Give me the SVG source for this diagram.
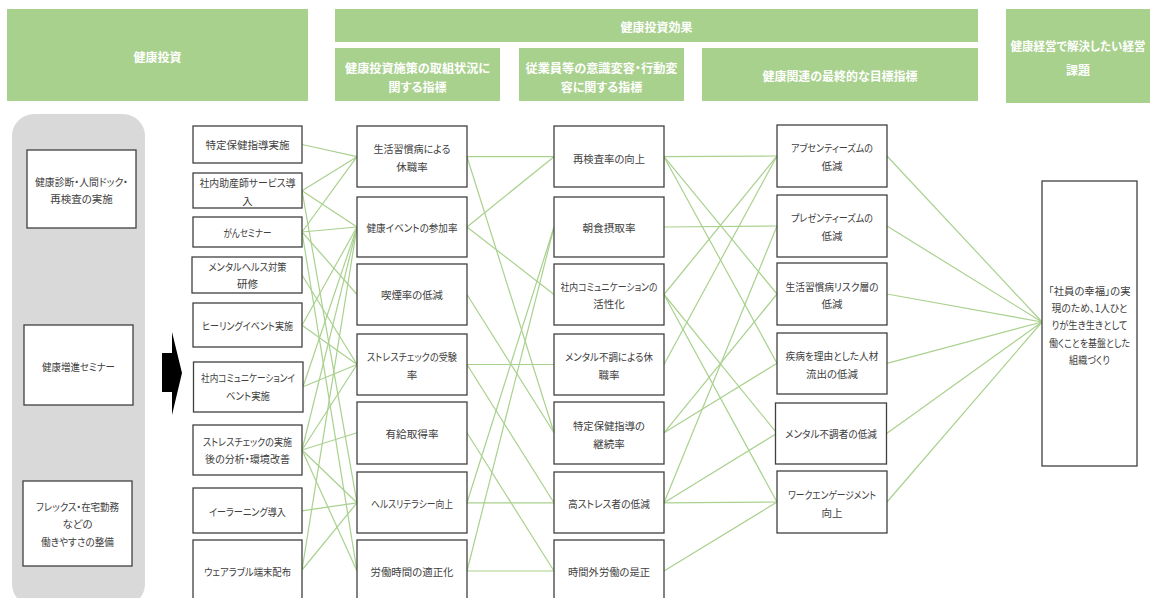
<svg xmlns="http://www.w3.org/2000/svg" width="1157" height="598" viewBox="0 0 1157 598">
<style>
.hd{fill:#a9d18e}
.ht{fill:#ffffff;font-weight:bold;font-size:12px;text-anchor:middle;dominant-baseline:central;font-family:"Noto Sans CJK JP",sans-serif;font-feature-settings:"palt"}
.bx{fill:#ffffff;stroke:#404040;stroke-width:1.3}
.t{font-size:10.5px;fill:#404040;text-anchor:middle;dominant-baseline:central;font-family:"Noto Sans CJK JP",sans-serif;font-feature-settings:"palt"}
.c line{stroke:#a9d18e;stroke-width:1.2}
</style>
<rect width="1157" height="598" fill="#ffffff"/>
<!-- headers -->
<g id="h-invest"><rect class="hd" x="7" y="9" width="301" height="92"/><text class="ht" x="157.5" y="56">健康投資</text></g>
<g id="h-effect"><rect class="hd" x="335" y="9" width="643" height="33"/><text class="ht" x="656.5" y="26">健康投資効果</text></g>
<g id="h-sub1"><rect class="hd" x="335" y="48" width="165" height="53"/><text class="ht" x="417.5" y="67" textLength="145" lengthAdjust="spacingAndGlyphs">健康投資施策の取組状況に</text><text class="ht" x="417.5" y="86">関する指標</text></g>
<g id="h-sub2"><rect class="hd" x="519" y="48" width="165" height="53"/><text class="ht" x="601.5" y="67" textLength="152" lengthAdjust="spacingAndGlyphs">従業員等の意識変容・行動変</text><text class="ht" x="601.5" y="86">容に関する指標</text></g>
<g id="h-sub3"><rect class="hd" x="702" y="48" width="276" height="53"/><text class="ht" x="840" y="75" textLength="155" lengthAdjust="spacingAndGlyphs">健康関連の最終的な目標指標</text></g>
<g id="h-issue"><rect class="hd" x="1006" y="9" width="144" height="94"/><text class="ht" x="1078" y="45" textLength="135" lengthAdjust="spacingAndGlyphs">健康経営で解決したい経営</text><text class="ht" x="1078" y="69">課題</text></g>
<!-- left panel -->
<rect x="12" y="114" width="133" height="492" rx="22" ry="22" fill="#d9d9d9"/>
<g id="l1"><rect class="bx" x="27" y="150" width="109" height="78"/><text class="t" x="81.5" y="181" textLength="93" lengthAdjust="spacingAndGlyphs">健康診断・人間ドック・</text><text class="t" x="81.5" y="198">再検査の実施</text></g>
<g id="l2"><rect class="bx" x="24" y="325" width="109" height="80"/><text class="t" x="78.5" y="366" textLength="73" lengthAdjust="spacingAndGlyphs">健康増進セミナー</text></g>
<g id="l3"><rect class="bx" x="23" y="481" width="109" height="85"/><text class="t" x="77.5" y="506" textLength="83" lengthAdjust="spacingAndGlyphs">フレックス・在宅勤務</text><text class="t" x="77.5" y="523">などの</text><text class="t" x="77.5" y="541" textLength="73" lengthAdjust="spacingAndGlyphs">働きやすさの整備</text></g>
<polygon id="arrow" points="162,353 172,353 172,332 182,373 172,415 172,392 162,392" fill="#000000"/>
<!-- connectors -->
<g id="connectors" class="c">
<line x1="302" y1="144.5" x2="357" y2="156.7"/>
<line x1="302" y1="190.7" x2="357" y2="156.7"/>
<line x1="302" y1="190.7" x2="357" y2="227"/>
<line x1="302" y1="190.7" x2="357" y2="502.8"/>
<line x1="302" y1="232" x2="357" y2="156.7"/>
<line x1="302" y1="232" x2="357" y2="227"/>
<line x1="302" y1="232" x2="357" y2="294.5"/>
<line x1="302" y1="232" x2="357" y2="571"/>
<line x1="302" y1="275" x2="357" y2="364.5"/>
<line x1="302" y1="325.3" x2="357" y2="227"/>
<line x1="302" y1="325.3" x2="357" y2="364.5"/>
<line x1="303" y1="386.7" x2="357" y2="227"/>
<line x1="303" y1="386.7" x2="357" y2="364.5"/>
<line x1="302" y1="450" x2="357" y2="227"/>
<line x1="302" y1="450" x2="357" y2="364.5"/>
<line x1="302" y1="450" x2="357" y2="432.8"/>
<line x1="302" y1="450" x2="357" y2="502.8"/>
<line x1="302" y1="450" x2="357" y2="571"/>
<line x1="302" y1="510.8" x2="357" y2="502.8"/>
<line x1="302" y1="570" x2="357" y2="227"/>
<line x1="302" y1="570" x2="357" y2="502.8"/>

<line x1="467" y1="156.7" x2="554" y2="156.7"/>
<line x1="467" y1="156.7" x2="554" y2="432.8"/>
<line x1="467" y1="227" x2="554" y2="156.7"/>
<line x1="467" y1="227" x2="554" y2="294.5"/>
<line x1="467" y1="294.5" x2="554" y2="432.8"/>
<line x1="467" y1="364.5" x2="554" y2="364.5"/>
<line x1="467" y1="364.5" x2="554" y2="502.8"/>
<line x1="467" y1="432.8" x2="554" y2="571"/>
<line x1="467" y1="502.8" x2="554" y2="502.8"/>
<line x1="467" y1="502.8" x2="554" y2="227"/>
<line x1="467" y1="571" x2="554" y2="571"/>
<line x1="467" y1="571" x2="554" y2="227"/>

<line x1="664" y1="156.7" x2="777" y2="156"/>
<line x1="664" y1="156.7" x2="777" y2="294"/>
<line x1="664" y1="156.7" x2="777" y2="363.3"/>
<line x1="664" y1="227" x2="777" y2="226"/>
<line x1="664" y1="294.5" x2="777" y2="156"/>
<line x1="664" y1="294.5" x2="777" y2="433.3"/>
<line x1="664" y1="294.5" x2="777" y2="502"/>
<line x1="664" y1="364.5" x2="777" y2="156"/>
<line x1="664" y1="432.8" x2="777" y2="294"/>
<line x1="664" y1="432.8" x2="777" y2="363.3"/>
<line x1="664" y1="502.8" x2="777" y2="226"/>
<line x1="664" y1="502.8" x2="777" y2="433.3"/>
<line x1="664" y1="502.8" x2="777" y2="502"/>
<line x1="664" y1="571" x2="777" y2="502"/>

<line x1="887" y1="156" x2="1042" y2="322"/>
<line x1="887" y1="226" x2="1042" y2="322"/>
<line x1="887" y1="294" x2="1042" y2="322"/>
<line x1="887" y1="363.3" x2="1042" y2="322"/>
<line x1="887" y1="433.3" x2="1042" y2="322"/>
<line x1="887" y1="502" x2="1042" y2="322"/>
</g>
<!-- column 1 -->
<g id="b1"><rect class="bx" x="193" y="126" width="109" height="37"/><text class="t" x="247.5" y="144.5" textLength="84" lengthAdjust="spacingAndGlyphs">特定保健指導実施</text></g>
<g id="b2"><rect class="bx" x="193" y="173" width="109" height="35"/><text class="t" x="247.5" y="182" textLength="96" lengthAdjust="spacingAndGlyphs">社内助産師サービス導</text><text class="t" x="247.5" y="200">入</text></g>
<g id="b3"><rect class="bx" x="193" y="217" width="109" height="30"/><text class="t" x="247.5" y="232" textLength="48" lengthAdjust="spacingAndGlyphs">がんセミナー</text></g>
<g id="b4"><rect class="bx" x="192" y="257" width="110" height="36"/><text class="t" x="247.5" y="266" textLength="78" lengthAdjust="spacingAndGlyphs">メンタルヘルス対策</text><text class="t" x="247.5" y="283">研修</text></g>
<g id="b5"><rect class="bx" x="193" y="303" width="109" height="44"/><text class="t" x="247.5" y="325" textLength="91" lengthAdjust="spacingAndGlyphs">ヒーリングイベント実施</text></g>
<g id="b6"><rect class="bx" x="193.5" y="362" width="109.5" height="50"/><text class="t" x="248" y="377" textLength="94" lengthAdjust="spacingAndGlyphs">社内コミュニケーションイ</text><text class="t" x="248" y="395" textLength="44" lengthAdjust="spacingAndGlyphs">ベント実施</text></g>
<g id="b7"><rect class="bx" x="193" y="425" width="109" height="50"/><text class="t" x="247.5" y="441" textLength="89" lengthAdjust="spacingAndGlyphs">ストレスチェックの実施</text><text class="t" x="247.5" y="458" textLength="85" lengthAdjust="spacingAndGlyphs">後の分析・環境改善</text></g>
<g id="b8"><rect class="bx" x="193" y="488" width="109" height="45"/><text class="t" x="247.5" y="511" textLength="77" lengthAdjust="spacingAndGlyphs">イーラーニング導入</text></g>
<g id="b9"><rect class="bx" x="193" y="540" width="109" height="62"/><text class="t" x="247.5" y="571" textLength="87" lengthAdjust="spacingAndGlyphs">ウェアラブル端末配布</text></g>
<!-- column 2 -->
<g id="c1"><rect class="bx" x="357" y="126" width="110" height="61"/><text class="t" x="412" y="148" textLength="77" lengthAdjust="spacingAndGlyphs">生活習慣病による</text><text class="t" x="412" y="166">休職率</text></g>
<g id="c2"><rect class="bx" x="357" y="197" width="110" height="60"/><text class="t" x="412" y="227" textLength="91" lengthAdjust="spacingAndGlyphs">健康イベントの参加率</text></g>
<g id="c3"><rect class="bx" x="357" y="264" width="110" height="61"/><text class="t" x="412" y="294" textLength="62" lengthAdjust="spacingAndGlyphs">喫煙率の低減</text></g>
<g id="c4"><rect class="bx" x="357" y="334" width="110" height="61"/><text class="t" x="412" y="356" textLength="90" lengthAdjust="spacingAndGlyphs">ストレスチェックの受験</text><text class="t" x="412" y="374">率</text></g>
<g id="c5"><rect class="bx" x="357" y="402" width="110" height="62"/><text class="t" x="412" y="433" textLength="53" lengthAdjust="spacingAndGlyphs">有給取得率</text></g>
<g id="c6"><rect class="bx" x="357" y="472" width="110" height="61"/><text class="t" x="412" y="503" textLength="82" lengthAdjust="spacingAndGlyphs">ヘルスリテラシー向上</text></g>
<g id="c7"><rect class="bx" x="357" y="540" width="110" height="62"/><text class="t" x="412" y="571" textLength="83" lengthAdjust="spacingAndGlyphs">労働時間の適正化</text></g>
<!-- column 3 -->
<g id="d1"><rect class="bx" x="554" y="126" width="110" height="61"/><text class="t" x="609" y="158" textLength="72" lengthAdjust="spacingAndGlyphs">再検査率の向上</text></g>
<g id="d2"><rect class="bx" x="554" y="197" width="110" height="60"/><text class="t" x="609" y="227" textLength="53" lengthAdjust="spacingAndGlyphs">朝食摂取率</text></g>
<g id="d3"><rect class="bx" x="554" y="264" width="110" height="61"/><text class="t" x="609" y="286" textLength="97" lengthAdjust="spacingAndGlyphs">社内コミュニケーションの</text><text class="t" x="609" y="303">活性化</text></g>
<g id="d4"><rect class="bx" x="554" y="334" width="110" height="61"/><text class="t" x="609" y="356" textLength="88" lengthAdjust="spacingAndGlyphs">メンタル不調による休</text><text class="t" x="609" y="374">職率</text></g>
<g id="d5"><rect class="bx" x="554" y="402" width="110" height="62"/><text class="t" x="609" y="425" textLength="72" lengthAdjust="spacingAndGlyphs">特定保健指導の</text><text class="t" x="609" y="443">継続率</text></g>
<g id="d6"><rect class="bx" x="554" y="472" width="110" height="61"/><text class="t" x="609" y="503" textLength="82" lengthAdjust="spacingAndGlyphs">高ストレス者の低減</text></g>
<g id="d7"><rect class="bx" x="554" y="540" width="110" height="62"/><text class="t" x="609" y="571" textLength="82" lengthAdjust="spacingAndGlyphs">時間外労働の是正</text></g>
<!-- column 4 -->
<g id="e1"><rect class="bx" x="777" y="125" width="110" height="62"/><text class="t" x="832" y="147" textLength="82" lengthAdjust="spacingAndGlyphs">アブセンティーズムの</text><text class="t" x="832" y="165">低減</text></g>
<g id="e2"><rect class="bx" x="777" y="195" width="110" height="62"/><text class="t" x="832" y="217" textLength="82" lengthAdjust="spacingAndGlyphs">プレゼンティーズムの</text><text class="t" x="832" y="235">低減</text></g>
<g id="e3"><rect class="bx" x="777" y="263" width="110" height="62"/><text class="t" x="832" y="286" textLength="93" lengthAdjust="spacingAndGlyphs">生活習慣病リスク層の</text><text class="t" x="832" y="303">低減</text></g>
<g id="e4"><rect class="bx" x="777" y="333" width="110" height="61"/><text class="t" x="832" y="355" textLength="93" lengthAdjust="spacingAndGlyphs">疾病を理由とした人材</text><text class="t" x="832" y="373" textLength="52" lengthAdjust="spacingAndGlyphs">流出の低減</text></g>
<g id="e5"><rect class="bx" x="775.5" y="403" width="111" height="61"/><text class="t" x="831" y="433" textLength="92" lengthAdjust="spacingAndGlyphs">メンタル不調者の低減</text></g>
<g id="e6"><rect class="bx" x="777" y="471" width="110" height="62"/><text class="t" x="832" y="494" textLength="88" lengthAdjust="spacingAndGlyphs">ワークエンゲージメント</text><text class="t" x="832" y="512">向上</text></g>
<!-- column 5 -->
<g id="f1"><rect class="bx" x="1042" y="181" width="95" height="285"/>
<text class="t" x="1089.5" y="290" textLength="82" lengthAdjust="spacingAndGlyphs">「社員の幸福」の実</text>
<text class="t" x="1089.5" y="307" textLength="76" lengthAdjust="spacingAndGlyphs">現のため、1人ひと</text>
<text class="t" x="1089.5" y="324" textLength="76" lengthAdjust="spacingAndGlyphs">りが生き生きとして</text>
<text class="t" x="1089.5" y="342" textLength="81" lengthAdjust="spacingAndGlyphs">働くことを基盤とした</text>
<text class="t" x="1089.5" y="359" textLength="41" lengthAdjust="spacingAndGlyphs">組織づくり</text></g>
</svg>
